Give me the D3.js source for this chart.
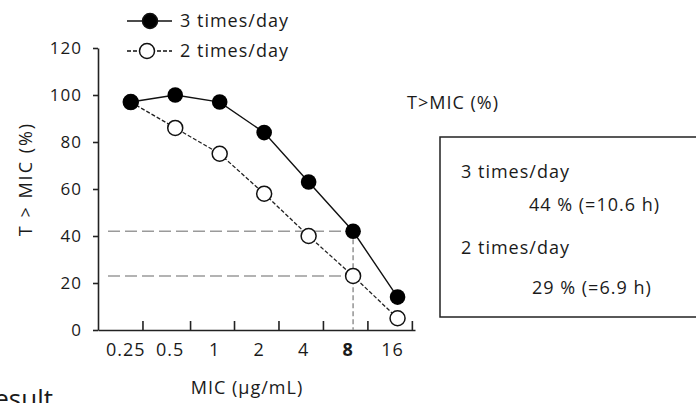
<!DOCTYPE html>
<html>
<head>
<meta charset="utf-8">
<script src="https://cdn.jsdelivr.net/npm/d3@7"></script>
<style>
  body { margin: 0; background: #fff; }
  svg text { font-family: "Open Sans", sans-serif; fill: #1a1a1a; letter-spacing: 1px; }
  .axis path, .axis line { stroke: #222; stroke-width: 1.6; }
</style>
</head>
<body>
<div id="chart"></div>
<script>
// MIC values on the x axis (ug/mL)
var mic = [0.25, 0.5, 1, 2, 4, 8, 16];
var micLabels = ["0.25", "0.5", "1", "2", "4", "8", "16"];
// T>MIC (%)
var thrice = [97, 100, 97, 84, 63, 42, 14];
var twice = [97, 86, 75, 58, 40, 23, 5];
var seriesNames = ["3 times/day", "2 times/day"];
var yTicks = [0, 20, 40, 60, 80, 100, 120];
var xTickMarks = [0.3, 0.63, 1.25, 2.5, 5, 10, 20];
var summaryLabels = ["3 times/day", "2 times/day"];
var summaryValues = ["44 % (=10.6 h)", "29 % (=6.9 h)"];

var width = 696, height = 403;

var svg = d3.select("#chart").append("svg")
    .attr("width", width)
    .attr("height", height);

var x = d3.scaleLog().base(2).domain([0.15, 21]).range([98, 415]),
    y = d3.scaleLinear().domain([0, 120]).range([330, 48]);

// y axis
var yAxis = svg.append("g")
    .attr("class", "axis")
    .attr("transform", "translate(" + x.range()[0] + ",0)")
    .call(d3.axisLeft(y).tickValues(yTicks).tickSize(5).tickSizeOuter(0).tickPadding(11));
yAxis.selectAll("text").style("font-size", "17px").attr("dy", "0.35em");

// x axis: tick marks point up, labels sit between them
var xAxis = svg.append("g")
    .attr("class", "axis")
    .attr("transform", "translate(0," + y(0) + ")")
    .call(d3.axisBottom(x).tickValues(xTickMarks).tickSize(-9).tickSizeOuter(0).tickFormat(""));

svg.append("g")
    .selectAll("text")
    .data(mic)
  .enter().append("text")
    .attr("x", function(d) { return x(d) - 5; })
    .attr("y", y(0) + 26)
    .style("text-anchor", "middle")
    .style("font-size", "18px")
    .style("font-weight", function(d, i) { return micLabels[i] === "8" ? "bold" : "normal"; })
    .text(function(d, i) { return micLabels[i]; });

// axis titles
svg.append("text")
    .attr("transform", "translate(26," + 179 + ") rotate(-90)")
    .attr("dy", "0.35em")
    .style("text-anchor", "middle")
    .style("font-size", "18px")
    .style("letter-spacing", "2px")
    .text("T > MIC (%)");

svg.append("text")
    .attr("x", 247)
    .attr("y", 394)
    .style("text-anchor", "middle")
    .style("font-size", "18px")
    .text("MIC (\u03bcg/mL)");

// grey reference lines at MIC = 8
var i8 = mic.indexOf(8);
var refGroup = svg.append("g")
    .style("stroke", "#9a9a9a")
    .style("stroke-width", 1.6)
    .style("stroke-dasharray", "12,5")
    .style("fill", "none");

refGroup.selectAll("line.h")
    .data([thrice[i8], twice[i8]])
  .enter().append("line")
    .attr("class", "h")
    .attr("x1", x.range()[0] + 10)
    .attr("x2", x(8) + 9)
    .attr("y1", function(d) { return y(d); })
    .attr("y2", function(d) { return y(d); });

refGroup.append("line")
    .attr("x1", x(8)).attr("x2", x(8))
    .attr("y1", y(thrice[i8])).attr("y2", y(0))
    .style("stroke-dasharray", "5,3");

// series lines
var line = d3.line()
    .x(function(d) { return x(d[0]); })
    .y(function(d) { return y(d[1]); });

var twiceData = mic.map(function(m, i) { return [m, twice[i]]; }),
    thriceData = mic.map(function(m, i) { return [m, thrice[i]]; });

svg.append("path")
    .datum(twiceData)
    .attr("d", line)
    .style("fill", "none")
    .style("stroke", "#222")
    .style("stroke-width", 1.3)
    .style("stroke-dasharray", "4,2");

svg.append("path")
    .datum(thriceData)
    .attr("d", line)
    .style("fill", "none")
    .style("stroke", "#111")
    .style("stroke-width", 1.4);

svg.selectAll(".open")
    .data(twiceData)
  .enter().append("circle")
    .attr("class", "open")
    .attr("r", 7.5)
    .attr("cx", function(d) { return x(d[0]); })
    .attr("cy", function(d) { return y(d[1]); })
    .style("fill", "#fff")
    .style("stroke", "#111")
    .style("stroke-width", 1.5);

svg.selectAll(".dot")
    .data(thriceData)
  .enter().append("circle")
    .attr("class", "dot")
    .attr("r", 7.8)
    .attr("cx", function(d) { return x(d[0]); })
    .attr("cy", function(d) { return y(d[1]); })
    .style("fill", "#000");

// legend
var legend = svg.selectAll(".legend")
    .data(seriesNames)
  .enter().append("g")
    .attr("class", "legend")
    .attr("transform", function(d, i) { return "translate(127," + (21 + i * 30) + ")"; });

legend.append("line")
    .attr("x1", 0).attr("x2", 45)
    .style("stroke", "#111")
    .style("stroke-width", 1.4)
    .style("stroke-dasharray", function(d, i) { return i ? "4,2" : null; });

legend.append("circle")
    .attr("cx", function(d, i) { return i ? 20 : 23; })
    .attr("r", 7.5)
    .style("fill", function(d, i) { return i ? "#fff" : "#000"; })
    .style("stroke", "#111")
    .style("stroke-width", 1.5);

legend.append("text")
    .attr("x", 53)
    .attr("dy", "0.35em")
    .style("font-size", "18px")
    .text(function(d) { return d; });

// summary box
svg.append("text")
    .attr("x", 407)
    .attr("y", 103)
    .attr("dy", "0.35em")
    .style("font-size", "18px")
    .text("T>MIC (%)");

svg.append("rect")
    .attr("x", 440)
    .attr("y", 137)
    .attr("width", 300)
    .attr("height", 180)
    .style("fill", "none")
    .style("stroke", "#222")
    .style("stroke-width", 1.5);

var summary = svg.selectAll(".summary")
    .data(summaryLabels)
  .enter().append("g")
    .attr("class", "summary")
    .attr("transform", function(d, i) { return "translate(0," + (i * 76) + ")"; });

summary.append("text")
    .attr("x", 461)
    .attr("y", 172)
    .attr("dy", "0.35em")
    .style("font-size", "18px")
    .text(function(d) { return d; });

summary.append("text")
    .attr("x", function(d, i) { return i ? 532 : 529; })
    .attr("y", function(d, i) { return i ? 212 : 205; })
    .attr("dy", "0.35em")
    .style("font-size", "18px")
    .text(function(d, i) { return summaryValues[i]; });

// heading cut off at the bottom of the picture
svg.append("text")
    .attr("x", 53)
    .attr("y", 408)
    .style("text-anchor", "end")
    .style("font-size", "26px")
    .style("letter-spacing", "0px")
    .text("Result");
</script>
</body>
</html>
